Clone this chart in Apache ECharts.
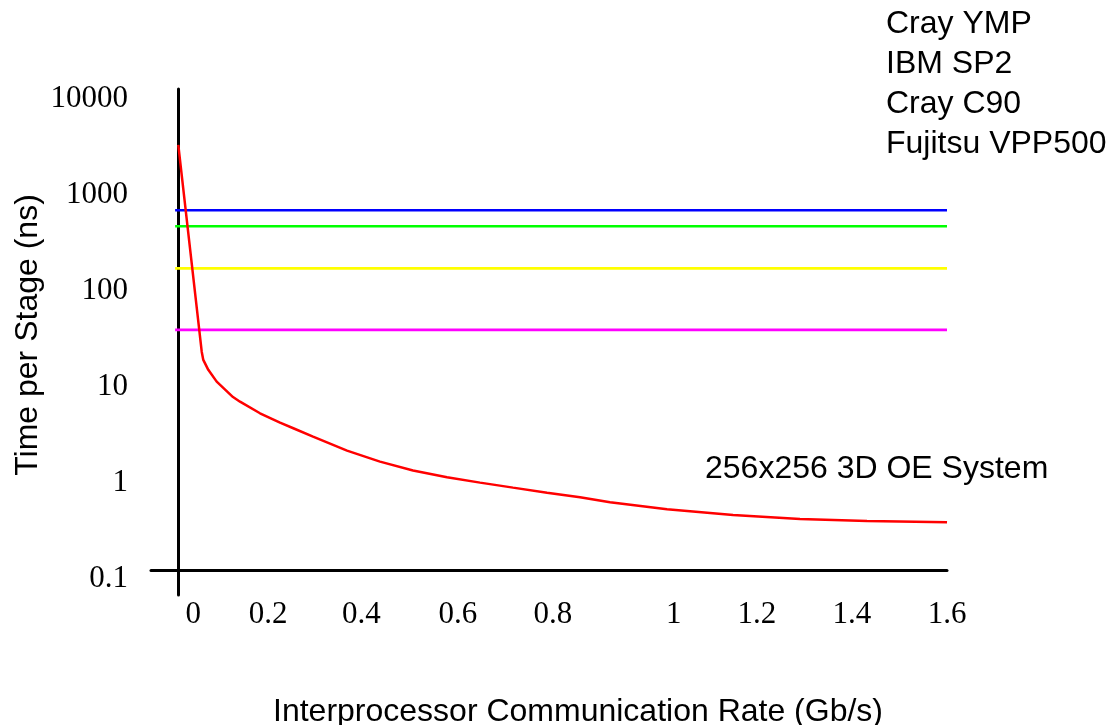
<!DOCTYPE html>
<html><head><meta charset="utf-8">
<script src="https://cdn.jsdelivr.net/npm/echarts@6/dist/echarts.min.js"></script>
<style>html,body{margin:0;padding:0;background:#fff}#c{width:1112px;height:725px}</style>
</head><body><div id="c"></div>
<script>
// ---- data ----
const xTickLabels = ['0', '0.2', '0.4', '0.6', '0.8', '1', '1.2', '1.4', '1.6'];
const xTickAt = [0.032, 0.188, 0.382, 0.583, 0.781, 1.033, 1.206, 1.404, 1.602];
const yTickValues = [0.1, 1, 10, 100, 1000, 10000];

const oeName = '256x256 3D OE System';
const oeX = [0.0006, 0.0494, 0.0527, 0.0631, 0.0806, 0.1146, 0.1292, 0.1708, 0.2125, 0.2402,
             0.2813, 0.3521, 0.4208, 0.4896, 0.5604, 0.6292, 0.6979, 0.7688, 0.8375, 0.9,
             1.0188, 1.1563, 1.2958, 1.4354, 1.6021];
const oeY = [2705, 19.0, 15.6, 12.3, 9.27, 6.4, 5.73, 4.34, 3.46, 3.03,
             2.48, 1.77, 1.36, 1.10, 0.936, 0.822, 0.729, 0.646, 0.579, 0.513,
             0.434, 0.379, 0.344, 0.328, 0.318];

const machineNames = ['Cray YMP', 'IBM SP2', 'Cray C90', 'Fujitsu VPP500'];
const machineTimes = [565, 385, 140, 32];
const hLineX = [-0.006, 1.602];

// ---- style ----
const machineColors = ['#0000ff', '#00ff00', '#ffff00', '#ff00ff'];
const sans = 'Liberation Sans';
const serif = 'Liberation Serif';

const series = machineNames.map((n, i) => ({
  name: n, type: 'line', showSymbol: false, symbol: 'none',
  data: hLineX.map(x => [x, machineTimes[i]]),
  lineStyle: { width: 2.7, color: machineColors[i] },
  itemStyle: { color: machineColors[i] },
  silent: true
}));
series.push({
  name: oeName, type: 'line', showSymbol: false, symbol: 'none',
  data: oeX.map((x, i) => [x, oeY[i]]),
  lineStyle: { width: 2.5, color: '#ff0000' },
  itemStyle: { color: '#ff0000' },
  z: 5, silent: true
});

const chart = echarts.init(document.getElementById('c'), null, { renderer: 'canvas' });
chart.setOption({
  animation: false,
  backgroundColor: '#fff',
  title: {
    text: oeName, left: 705, top: 453, padding: 0,
    textStyle: { fontFamily: sans, fontSize: 32, fontWeight: 'normal', color: '#000' }
  },
  legend: {
    data: machineNames, orient: 'vertical', left: 881, top: 8, padding: 0,
    icon: 'none', itemWidth: 0, itemHeight: 0, itemGap: 8, selectedMode: false,
    textStyle: { fontFamily: sans, fontSize: 32, lineHeight: 32, color: '#000' }
  },
  grid: { left: 151, top: 89, width: 796, height: 506, containLabel: false, outerBoundsMode: 'none' },
  xAxis: {
    type: 'value', min: -0.05625, max: 1.602, offset: -24.5,
    axisLine: { show: true, lineStyle: { color: '#000', width: 3 } },
    axisTick: { show: false },
    splitLine: { show: false },
    axisLabel: {
      customValues: xTickAt,
      formatter: v => {
        let best = 0;
        xTickAt.forEach((p, i) => { if (Math.abs(p - v) < Math.abs(xTickAt[best] - v)) best = i; });
        return xTickLabels[best];
      },
      fontFamily: serif, fontSize: 31, color: '#000', margin: 28.5
    },
    name: 'Interprocessor Communication Rate (Gb/s)',
    nameLocation: 'middle', nameGap: 126, nameMoveOverlap: false,
    nameTextStyle: { fontFamily: sans, fontSize: 32, color: '#000', padding: [0, 0, 0, 58] }
  },
  yAxis: {
    type: 'log', logBase: 10, min: 0.0555, max: 10360,
    axisLine: { show: true, onZero: true, lineStyle: { color: '#000', width: 3 } },
    axisTick: { show: false },
    splitLine: { show: false },
    axisLabel: {
      customValues: yTickValues,
      formatter: v => String(+v.toPrecision(6)),
      fontFamily: serif, fontSize: 31, color: '#000', margin: 23,
      verticalAlign: 'top', lineHeight: 16
    },
    name: 'Time per Stage (ns)',
    nameLocation: 'middle', nameGap: 107, nameRotate: 90, nameMoveOverlap: false,
    nameTextStyle: { fontFamily: sans, fontSize: 32, color: '#000', padding: [0, 0, 0, 14] }
  },
  series: series
});
</script>
</body></html>
